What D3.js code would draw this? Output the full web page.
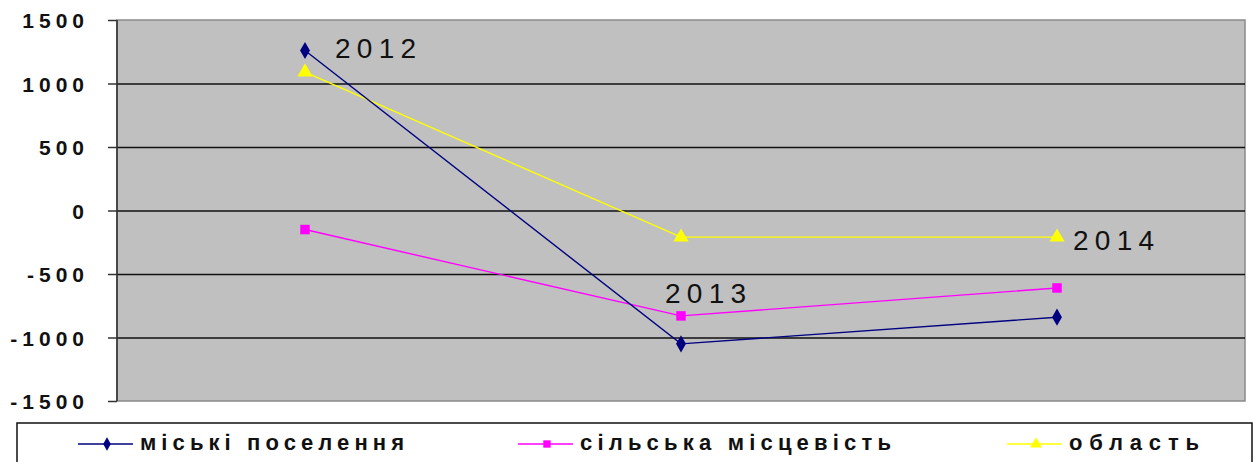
<!DOCTYPE html>
<html><head><meta charset="utf-8">
<script src="https://cdn.jsdelivr.net/npm/d3@7"></script>
<style>body{margin:0;background:#fff;} text{font-family:"Liberation Sans",Arial,sans-serif;}</style>
</head><body>
<svg id="c" width="1257" height="462"></svg>
<script>
const years = ["2012", "2013", "2014"];
const urban = [1260, -1050, -840];
const rural = [-150, -830, -610];
const region = [1090, -210, -210];
const yTicks = [1500, 1000, 500, 0, -500, -1000, -1500];
const seriesNames = ["міські поселення", "сільська місцевість", "область"];

const svg = d3.select("#c");
const L = 117, R = 1245, T = 20, B = 401;
const x = d3.scalePoint().domain(years).range([L, R]).padding(0.5);
const y = d3.scaleLinear().domain([-1500, 1500]).range([B, T]);

svg.append("rect").attr("x", L).attr("y", T).attr("width", R - L).attr("height", B - T)
  .attr("fill", "#c0c0c0").attr("stroke", "#8a8a8a").attr("stroke-width", 1.5);

const grid = svg.append("g").attr("transform", `translate(${L},0)`)
  .call(d3.axisLeft(y).tickValues(yTicks.filter(v => v !== 1500 && v !== -1500)).tickSize(-(R - L)).tickFormat(""));
grid.select(".domain").remove();
grid.selectAll("line").attr("stroke", "#111").attr("stroke-width", 1.6);

const ax = svg.append("g").attr("transform", `translate(${L},0)`)
  .call(d3.axisLeft(y).tickValues(yTicks).tickSize(9).tickPadding(19).tickFormat(d => d));
ax.select(".domain").attr("stroke", "#333").attr("stroke-width", 1.6).attr("d", `M0,${T}V${B}`);
ax.selectAll(".tick line").attr("stroke", "#333").attr("stroke-width", 1.5);
ax.selectAll(".tick text").attr("font-size", 21).attr("font-weight", "bold").attr("dy", "0.36em")
  .attr("letter-spacing", "5px").attr("fill", "#111").attr("font-family", "'Liberation Sans',Arial,sans-serif");

const series = [
  {name: seriesNames[0], values: urban, color: "#000080", shape: d3.symbolDiamond, size: 85},
  {name: seriesNames[1], values: rural, color: "#ff00ff", shape: d3.symbolSquare, size: 90},
  {name: seriesNames[2], values: region, color: "#ffff00", shape: d3.symbolTriangle, size: 100}
];
const line = d3.line().x((d, i) => x(years[i])).y(d => y(d));
[series[2], series[1], series[0]].forEach(s => {
  svg.append("path").datum(s.values).attr("d", line).attr("fill", "none")
    .attr("stroke", s.color).attr("stroke-width", 1.4);
  svg.selectAll(null).data(s.values).enter().append("path")
    .attr("d", d3.symbol().type(s.shape).size(s.size))
    .attr("transform", (d, i) => `translate(${x(years[i])},${y(d)})`)
    .attr("fill", s.color);
});

const lbl = [
  {t: years[0], x: 335, y: 58},
  {t: years[1], x: 665, y: 303},
  {t: years[2], x: 1073, y: 250}
];
svg.selectAll(null).data(lbl).enter().append("text")
  .attr("x", d => d.x).attr("y", d => d.y).text(d => d.t)
  .attr("font-size", 28).attr("letter-spacing", "6.3px").attr("fill", "#111");

svg.append("rect").attr("x", 17).attr("y", 423).attr("width", 1235).attr("height", 50)
  .attr("fill", "#fff").attr("stroke", "#111").attr("stroke-width", 1.5);
const legX = [78, 518, 1007];
const legW = [264, 311, 130];
series.forEach((s, i) => {
  const g = svg.append("g").attr("transform", `translate(${legX[i]},444)`);
  g.append("line").attr("x1", 0).attr("x2", 55).attr("stroke", s.color).attr("stroke-width", 1.4);
  g.append("path").attr("d", d3.symbol().type(s.shape).size(s.size * 0.6)).attr("transform", "translate(29,0)").attr("fill", s.color);
  g.append("text").attr("x", 62).attr("y", 6).text(s.name)
    .attr("textLength", legW[i]).attr("lengthAdjust", "spacing")
    .attr("font-size", 22).attr("font-weight", "bold").attr("fill", "#111");
});
</script>
</body></html>
